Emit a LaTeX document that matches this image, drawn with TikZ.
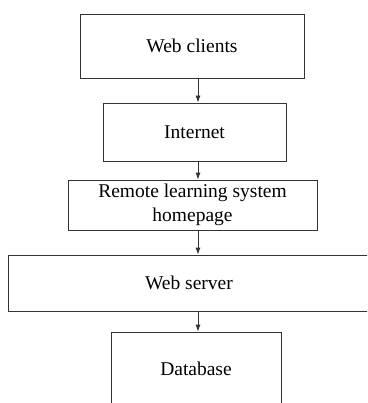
\documentclass[tikz,border=0pt]{standalone}
\usepackage{fontspec}
\setmainfont{Liberation Serif}
\usetikzlibrary{arrows.meta}
\begin{document}
\begin{tikzpicture}[x=1pt, y=1pt,
    box/.style={draw=black!80, line width=0.8pt, rectangle, inner sep=0pt,
                font=\fontsize{19.5}{24}\selectfont, align=center},
    flow/.style={draw=black!80, line width=0.8pt, -{Latex[length=7pt,width=5pt]}}]
    \useasboundingbox (0,0) rectangle (367,-403);
    \clip (0,0) rectangle (367,-403);
    \node(wc) at (192,-46)    [box, minimum width=224pt, minimum height=64pt] {Web clients};
    \node(in) at (194.5,-132) [box, minimum width=183pt, minimum height=58pt] {Internet};
    \node(rl) at (192.5,-205) [box, minimum width=249pt, minimum height=50pt] {Remote learning system\\homepage};
    \node(ws) at (189,-283)   [box, minimum width=362pt, minimum height=56pt] {Web server};
    \node(db) at (196,-382)   [box, minimum width=170pt, minimum height=100pt] {};
    \node(dbl) at (196,-369)  [font=\fontsize{19.5}{24}\selectfont] {Database};
    \coordinate(ax) at (198,0);
    \draw[flow] (wc.south -| ax) -- (in.north -| ax);
    \draw[flow] (in.south -| ax) -- (rl.north -| ax);
    \draw[flow] (rl.south -| ax) -- (ws.north -| ax);
    \draw[flow] (ws.south -| ax) -- (db.north -| ax);
\end{tikzpicture}
\end{document}
